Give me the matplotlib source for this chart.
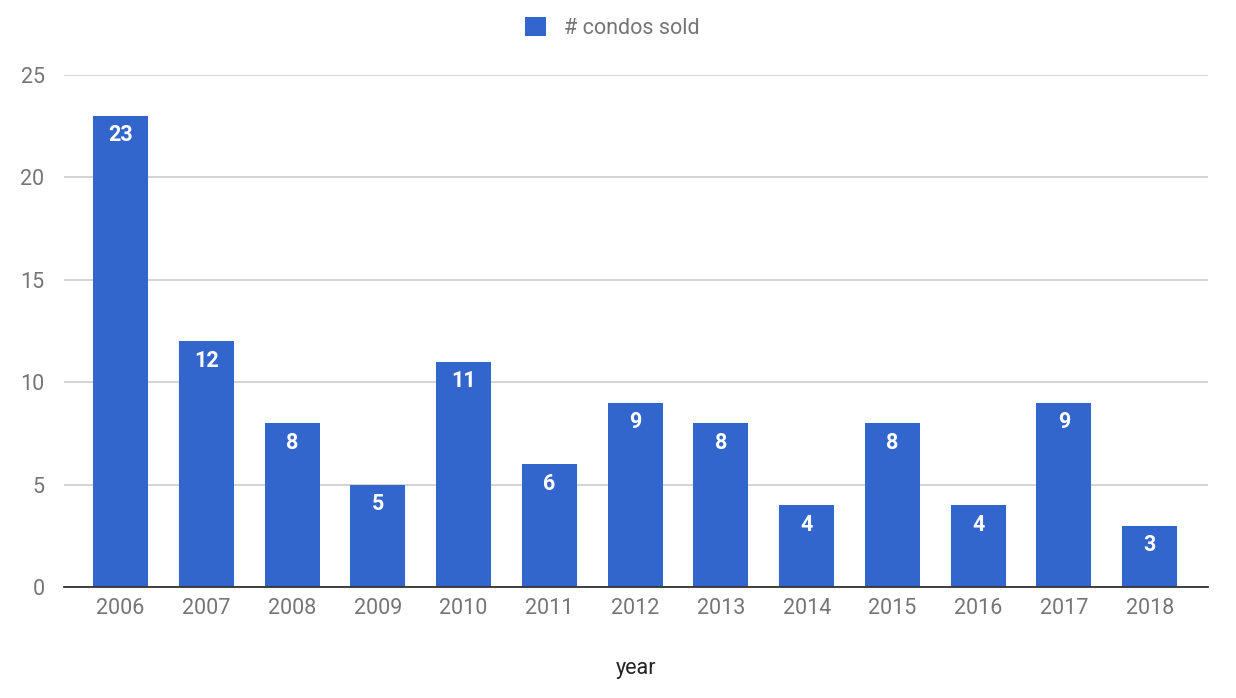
import matplotlib
matplotlib.use("Agg")
import matplotlib.pyplot as plt

years = ["2006", "2007", "2008", "2009", "2010", "2011", "2012",
         "2013", "2014", "2015", "2016", "2017", "2018"]
condos_sold = [23, 12, 8, 5, 11, 6, 9, 8, 4, 8, 4, 9, 3]
y_ticks = [0, 5, 10, 15, 20, 25]

plt.rcParams['font.family'] = ['Roboto', 'DejaVu Sans']
BLUE = "#3366cc"
GREY = "#757575"

W, H = 1236, 698
fig = plt.figure(figsize=(W / 100, H / 100), dpi=100)
ax = fig.add_axes([64 / W, 1 - 587 / H, (1208 - 64) / W, (587 - 75) / H])

x = list(range(len(years)))
bars = ax.bar(x, condos_sold, width=0.64, color=BLUE, zorder=3, label="# condos sold")

ax.set_xlim(-0.66, len(years) - 1 + 0.68)
ax.set_ylim(0, 25)
ax.set_yticks(y_ticks)
ax.set_xticks(x)
ax.set_xticklabels(years)
ax.tick_params(axis='both', length=0, labelsize=15.5, labelcolor=GREY)
ax.tick_params(axis='y', pad=14)
ax.tick_params(axis='x', pad=8)
ax.grid(axis='y', color="#cccccc", linewidth=1.2, zorder=0)
for s in ["top", "right", "left"]:
    ax.spines[s].set_visible(False)
ax.spines["bottom"].set_color("#333333")
ax.spines["bottom"].set_linewidth(1.3)
ax.spines["bottom"].set_zorder(4)

for xi, v in zip(x, condos_sold):
    ax.annotate(str(v), (xi, v), xytext=(0, -14), textcoords="offset points",
                ha="center", va="center", color="white", fontsize=15.5,
                fontweight="bold", zorder=5)

ax.set_xlabel("year", fontsize=15.5, color="#222222", labelpad=28)

leg = fig.legend(handles=[bars], labels=["# condos sold"], loc="center",
                 bbox_to_anchor=(612 / W, 1 - 28 / H), frameon=False,
                 fontsize=15.5, handlelength=1.0, handleheight=1.0,
                 handletextpad=0.8, borderpad=0)
for t in leg.get_texts():
    t.set_color(GREY)

fig.savefig("out.png", dpi=100)
